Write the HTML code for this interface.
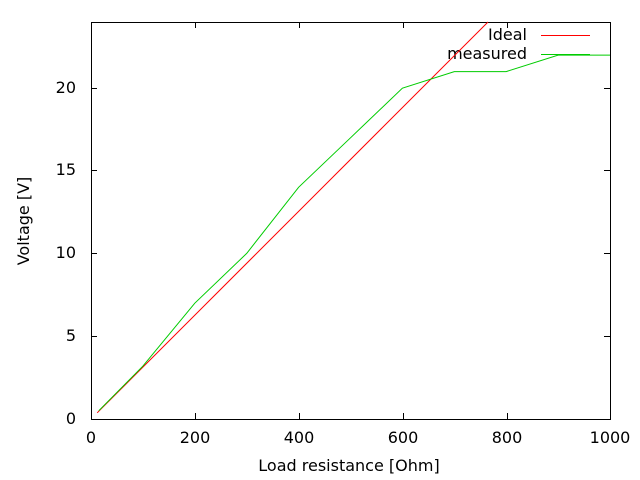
<!DOCTYPE html>
<html><head><meta charset="utf-8"><style>
html,body{margin:0;padding:0;background:#fff;}
svg{display:block;font-family:"DejaVu Sans","Liberation Sans",sans-serif;font-size:16px;}
</style></head><body>
<svg width="640" height="480" viewBox="0 0 640 480" xmlns="http://www.w3.org/2000/svg">
<rect width="640" height="480" fill="#fff"/>
<g stroke="#000" stroke-width="1" fill="none" shape-rendering="crispEdges">
<rect x="91.5" y="22.5" width="519" height="397"/>
<path d="M91 419.5h6M610 419.5h-6M91 336.5h6M610 336.5h-6M91 253.5h6M610 253.5h-6M91 170.5h6M610 170.5h-6M91 88.5h6M610 88.5h-6"/>
<path d="M91.5 419v-6M91.5 22v6M195.5 419v-6M195.5 22v6M299.5 419v-6M299.5 22v6M403.5 419v-6M403.5 22v6M507.5 419v-6M507.5 22v6M610.5 419v-6M610.5 22v6"/>
</g>
<g fill="#000" text-anchor="end">
<text x="76" y="424">0</text>
<text x="76" y="341">5</text>
<text x="76" y="258">10</text>
<text x="76" y="175">15</text>
<text x="76" y="93">20</text>
</g>
<g fill="#000" text-anchor="middle">
<text x="91" y="443">0</text>
<text x="195" y="443">200</text>
<text x="299" y="443">400</text>
<text x="403" y="443">600</text>
<text x="507" y="443">800</text>
<text x="610" y="443">1000</text>
<text x="349" y="471">Load resistance [Ohm]</text>
<text transform="translate(29,221) rotate(-90)">Voltage [V]</text>
</g>
<g text-anchor="end" fill="#000">
<text x="527" y="40">Ideal</text>
<text x="527" y="59">measured</text>
</g>
<path d="M541 35.5h49" stroke="#f00" stroke-width="1"/>
<path d="M541 54.5h49" stroke="#0c0" stroke-width="1"/>
<path d="M97.2 412.8L488 22" stroke="#f00" stroke-width="1" fill="none"/>
<path d="M98.8 410.7L142.9 366.1L194.8 303.2L246.7 253.4L298.6 187.3L350.5 137.8L402.4 88.2L454.3 71.6L506.2 71.6L558.1 55.1L610 55.1" stroke="#0c0" stroke-width="1" fill="none"/>
</svg>
</body></html>
